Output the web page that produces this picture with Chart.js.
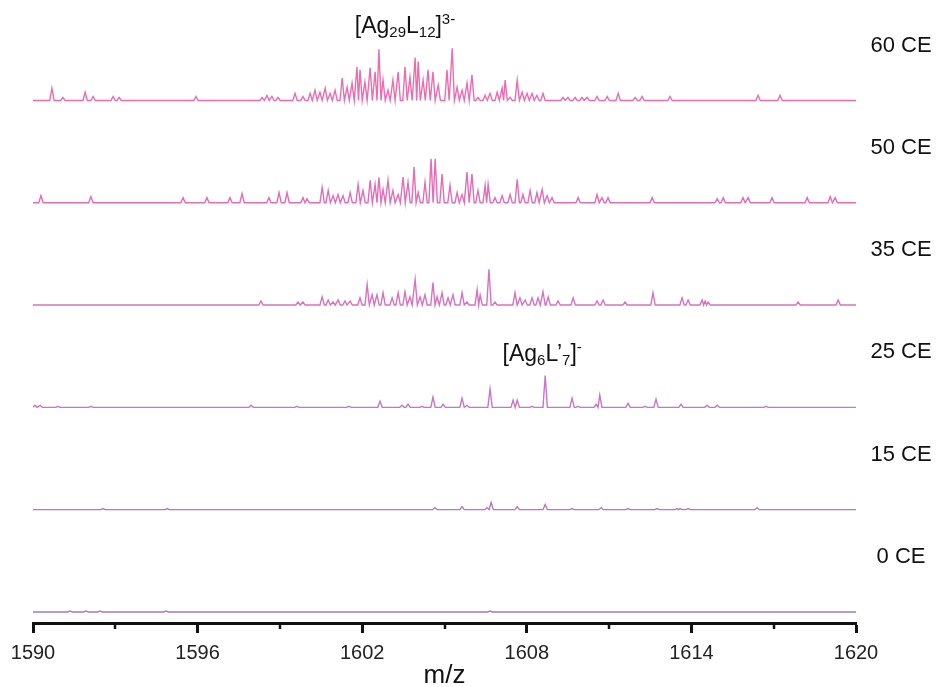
<!DOCTYPE html>
<html>
<head>
<meta charset="utf-8">
<script src="https://cdn.jsdelivr.net/npm/chart.js@4/dist/chart.umd.min.js"></script>
<style>
  html, body { margin: 0; padding: 0; background: #fff; }
  #wrap { width: 940px; height: 687px; position: relative; }
</style>
</head>
<body>
<div id="wrap"><canvas id="ms"></canvas></div>
<script>
// m/z window and stacking
const mzMin = 1590;
const mzMax = 1620;
const mzTicks = [1590, 1596, 1602, 1608, 1614, 1620];
const mzMinorTicks = [1593, 1599, 1605, 1611, 1617];

const energies = ['60 CE', '50 CE', '35 CE', '25 CE', '15 CE', '0 CE'];
const offsets = [500, 400, 300, 200, 100, 0];
const colors = ['#ee6cae', '#e36db6', '#d871bf', '#c875c6', '#b874ca', '#a877cb'];

// peak lists: [m/z, intensity]
const peaks60 = [
  [1590.69, 12], [1591.09, 3], [1591.90, 8], [1592.19, 4], [1592.92, 4], [1593.14, 3],
  [1595.94, 4], [1598.35, 3], [1598.53, 5], [1598.71, 4], [1598.93, 3], [1599.55, 7],
  [1599.84, 4], [1600.10, 7], [1600.28, 10], [1600.46, 8], [1600.65, 12], [1600.83, 7],
  [1601.01, 10], [1601.27, 22], [1601.45, 13], [1601.63, 17], [1601.81, 33], [1601.92, 30],
  [1602.10, 18], [1602.29, 32], [1602.47, 28], [1602.61, 50], [1602.76, 20], [1602.94, 10],
  [1603.12, 20], [1603.31, 28], [1603.56, 33], [1603.74, 23], [1603.93, 42], [1604.04, 38],
  [1604.22, 20], [1604.40, 30], [1604.58, 28], [1604.77, 15], [1605.09, 30], [1605.28, 51],
  [1605.46, 13], [1605.64, 10], [1605.82, 17], [1606.00, 25], [1606.22, 3], [1606.48, 5],
  [1606.66, 7], [1606.92, 8], [1607.10, 12], [1607.21, 20], [1607.39, 3], [1607.65, 20],
  [1607.83, 8], [1608.01, 7], [1608.19, 7], [1608.37, 5], [1608.59, 7], [1609.32, 3],
  [1609.50, 3], [1609.76, 3], [1610.01, 3], [1610.20, 3], [1610.56, 4], [1610.93, 4],
  [1611.33, 7], [1611.95, 3], [1612.20, 4], [1613.22, 4], [1616.43, 5], [1617.23, 5]
];
const peaks50 = [
  [1590.29, 7], [1592.11, 6], [1595.47, 5], [1596.34, 5], [1597.18, 5], [1597.62, 9],
  [1598.60, 5], [1598.97, 10], [1599.26, 10], [1599.84, 5], [1599.99, 4], [1600.54, 15],
  [1600.76, 12], [1600.94, 7], [1601.12, 8], [1601.30, 7], [1601.56, 10], [1601.85, 18],
  [1602.03, 12], [1602.29, 22], [1602.47, 18], [1602.61, 25], [1602.76, 13], [1602.94, 22],
  [1603.12, 12], [1603.31, 8], [1603.49, 25], [1603.67, 20], [1603.89, 35], [1604.04, 10],
  [1604.29, 20], [1604.51, 43], [1604.66, 43], [1604.91, 28], [1605.20, 17], [1605.46, 10],
  [1605.64, 8], [1605.82, 30], [1606.00, 28], [1606.22, 12], [1606.48, 17], [1606.59, 18],
  [1606.84, 5], [1607.10, 7], [1607.39, 8], [1607.65, 23], [1607.86, 8], [1608.12, 12],
  [1608.37, 10], [1608.56, 13], [1608.74, 7], [1608.92, 5], [1609.87, 5], [1610.56, 8],
  [1610.74, 5], [1610.96, 5], [1612.57, 5], [1614.94, 4], [1615.16, 5], [1615.88, 5],
  [1616.07, 5], [1616.94, 5], [1618.22, 5], [1619.06, 6], [1619.24, 5]
];
const peaks35 = [
  [1598.31, 4], [1599.66, 3], [1599.84, 3], [1600.54, 8], [1600.76, 5], [1600.94, 3],
  [1601.12, 5], [1601.37, 4], [1601.56, 4], [1601.92, 7], [1602.18, 20], [1602.36, 10],
  [1602.54, 10], [1602.76, 12], [1603.09, 7], [1603.31, 12], [1603.56, 13], [1603.74, 8],
  [1603.93, 25], [1604.11, 8], [1604.29, 10], [1604.58, 22], [1604.73, 8], [1604.91, 12],
  [1605.13, 7], [1605.31, 10], [1605.64, 12], [1605.82, 3], [1606.19, 15], [1606.30, 10],
  [1606.62, 35], [1606.84, 3], [1607.57, 12], [1607.75, 7], [1607.94, 5], [1608.19, 7],
  [1608.41, 7], [1608.59, 13], [1608.78, 8], [1609.14, 4], [1609.69, 7], [1610.56, 4],
  [1610.78, 5], [1611.58, 3], [1612.60, 12], [1613.66, 7], [1613.88, 5], [1614.39, 5],
  [1614.50, 4], [1614.61, 3], [1617.89, 3], [1619.35, 5]
];
const peaks25 = [
  [1590.07, 2], [1590.26, 2], [1590.91, 1], [1592.11, 1], [1597.95, 2], [1599.62, 1],
  [1601.52, 1], [1602.65, 6], [1603.45, 2], [1603.67, 3], [1604.18, 1], [1604.58, 10],
  [1604.95, 3], [1605.64, 9], [1605.82, 2], [1606.66, 18], [1607.50, 7], [1607.65, 7],
  [1608.19, 1], [1608.67, 31], [1609.65, 9], [1609.87, 1], [1610.53, 3], [1610.66, 12],
  [1611.69, 4], [1612.31, 1], [1612.71, 8], [1613.62, 3], [1614.57, 2], [1614.94, 2],
  [1616.72, 1]
];
const peaks15 = [
  [1592.55, 1], [1594.89, 1], [1604.65, 2], [1605.64, 3], [1606.55, 2], [1606.70, 7],
  [1607.65, 3], [1608.67, 5], [1609.65, 1], [1610.71, 2], [1611.69, 1], [1612.75, 1],
  [1613.48, 1], [1613.59, 1], [1613.88, 1], [1616.39, 2]
];
const peaks0 = [
  [1591.35, 1], [1591.93, 1], [1592.44, 1], [1594.85, 1], [1606.66, 1]
];
const spectra = [peaks60, peaks50, peaks35, peaks25, peaks15, peaks0];

// ion labels: runs of normal / sub / sup text
const ionLabels = [
  { parts: [['[Ag', 'n'], ['29', 'sub'], ['L', 'n'], ['12', 'sub'], [']', 'n'], ['3-', 'sup']], mz: 1603.56, row: 0, lift: 74 },
  { parts: [['[Ag', 'n'], ['6', 'sub'], ['L\u2019', 'n'], ['7', 'sub'], [']', 'n'], ['-', 'sup']], mz: 1608.56, row: 3, lift: 53 }
];

const halfWidth = 0.08;

// turn a peak list into a line profile sitting on its stacking offset
function profile(peaks, base) {
  const pts = [{ x: mzMin, y: base }];
  peaks.forEach((p, i) => {
    const prev = peaks[i - 1];
    const next = peaks[i + 1];
    let left = p[0] - halfWidth;
    let right = p[0] + halfWidth;
    if (prev) left = Math.max(left, (prev[0] + p[0]) / 2);
    if (next) right = Math.min(right, (next[0] + p[0]) / 2);
    const last = pts[pts.length - 1];
    if (last.x < left) pts.push({ x: left, y: base });
    pts.push({ x: p[0], y: base + p[1] });
    pts.push({ x: right, y: base });
  });
  pts.push({ x: mzMax, y: base });
  return pts;
}

const datasets = spectra.map((peaks, i) => ({
  label: energies[i],
  data: profile(peaks, offsets[i]),
  borderColor: colors[i],
  borderWidth: 1.4,
  pointRadius: 0,
  tension: 0,
  fill: false
}));

const FONT = '"Liberation Sans", Arial, sans-serif';

const decorations = {
  id: 'decorations',
  afterDraw(chart) {
    const { ctx, scales: { x, y }, chartArea } = chart;
    ctx.save();

    // minor ticks
    ctx.strokeStyle = '#111';
    ctx.lineWidth = 2.5;
    mzMinorTicks.forEach(v => {
      const px = Math.round(x.getPixelForValue(v));
      ctx.beginPath();
      ctx.moveTo(px, chartArea.bottom);
      ctx.lineTo(px, chartArea.bottom + 6);
      ctx.stroke();
    });

    // axis title
    ctx.fillStyle = '#111';
    ctx.font = '26px ' + FONT;
    ctx.textAlign = 'center';
    ctx.textBaseline = 'middle';
    ctx.fillText('m/z', (chartArea.left + chartArea.right) / 2, chartArea.bottom + 53);

    // collision energy labels
    ctx.font = '22px ' + FONT;
    energies.forEach((name, i) => {
      ctx.fillText(name, 901, y.getPixelForValue(offsets[i]) - 55);
    });

    // ion assignments
    ctx.textAlign = 'left';
    ctx.textBaseline = 'alphabetic';
    ionLabels.forEach(lab => {
      const sizes = { n: 23, sub: 15, sup: 15 };
      const shift = { n: 0, sub: 4, sup: -9 };
      let total = 0;
      lab.parts.forEach(([t, k]) => {
        ctx.font = sizes[k] + 'px ' + FONT;
        total += ctx.measureText(t).width;
      });
      let cx = x.getPixelForValue(lab.mz) - total / 2;
      const by = y.getPixelForValue(offsets[lab.row] + lab.lift) + 8;
      lab.parts.forEach(([t, k]) => {
        ctx.font = sizes[k] + 'px ' + FONT;
        ctx.fillText(t, cx, by + shift[k]);
        cx += ctx.measureText(t).width;
      });
    });

    ctx.restore();
  }
};

new Chart(document.getElementById('ms'), {
  type: 'line',
  data: { datasets: datasets },
  options: {
    responsive: true,
    maintainAspectRatio: false,
    animation: false,
    events: [],
    layout: { padding: { left: 33, right: 84, top: 0, bottom: 0 } },
    plugins: { legend: { display: false }, tooltip: { enabled: false } },
    scales: {
      x: {
        type: 'linear',
        min: mzMin,
        max: mzMax,
        afterBuildTicks: scale => { scale.ticks = mzTicks.map(v => ({ value: v })); },
        // fixed band under the plot for ticks, labels and the m/z title
        afterFit: scale => { scale.height = 64; },
        ticks: {
          callback: v => String(v),
          padding: 10,
          color: '#222',
          maxRotation: 0,
          autoSkip: false,
          font: { family: FONT, size: 20, lineHeight: 1.0 }
        },
        grid: {
          drawOnChartArea: false,
          drawTicks: true,
          tickLength: 10,
          tickWidth: 3,
          tickColor: '#111'
        },
        border: { display: true, width: 3, color: '#111' }
      },
      y: {
        type: 'linear',
        display: false,
        min: -10.8,
        max: 598.2
      }
    }
  },
  plugins: [decorations]
});
</script>
</body>
</html>
